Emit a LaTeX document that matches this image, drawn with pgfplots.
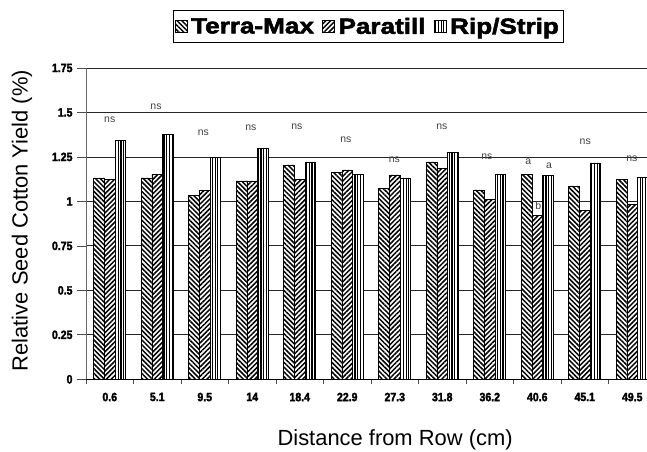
\documentclass[border=0pt]{standalone}
\usepackage{fontspec}
\setmainfont{Liberation Sans}
\newfontfamily\legfont{Liberation Sans}[FakeStretch=1.19, BoldFeatures={FakeBold=2.5}]
\newfontfamily\tickfont{Liberation Sans}[FakeStretch=0.88, BoldFeatures={FakeBold=2.5}]
\usepackage{pgfplots}
\pgfplotsset{compat=1.18}
\usepackage{pgfplotstable}
\usetikzlibrary{patterns.meta}

\pgfplotsset{sqlegend/.style={legend image code/.code={\draw[##1] (0pt,-5.5pt) rectangle (12pt,6.5pt);}}}

\pgfplotstableread{
idx lab TM PA RS
0 0.6 1.132 1.123 1.341
1 5.1 1.132 1.152 1.375
2 9.5 1.033 1.061 1.246
3 14 1.115 1.115 1.298
4 18.4 1.205 1.123 1.222
5 22.9 1.162 1.177 1.152
6 27.3 1.072 1.149 1.132
7 31.8 1.222 1.184 1.274
8 36.2 1.065 1.009 1.152
9 40.6 1.152 0.919 1.147
10 45.1 1.087 0.947 1.216
11 49.5 1.124 0.981 1.134
}\yielddata

\begin{document}
\begin{tikzpicture}
\begin{axis}[
  scale only axis, width=561bp, height=311.3bp,
  at={(0,0)}, anchor=south west,
  xmin=-0.5, xmax=11.31, ymin=0, ymax=1.75,
  axis lines=left, axis line style={-},
  x axis line style={black, line width=0.8pt},
  y axis line style={black!60, line width=0.8pt},
  ytick={0,0.25,0.5,0.75,1,1.25,1.5,1.75},
  yticklabels={0,0.25,0.5,0.75,1,1.25,1.5,1.75},
  xtick={0,1,2,3,4,5,6,7,8,9,10,11},
  xticklabels from table={\yielddata}{lab},
  minor xtick={-0.5,0.5,1.5,2.5,3.5,4.5,5.5,6.5,7.5,8.5,9.5,10.5},
  major x tick style={draw=none},
  tick align=outside, major tick length=9bp, minor tick length=5bp,
  tick style={black!70, line width=0.7pt},
  ymajorgrids, major grid style={black!85, line width=0.8pt},
  every tick label/.append style={font=\tickfont\bfseries\fontsize{12}{14}\selectfont},
  xticklabel style={yshift=-1pt},
  yticklabel style={xshift=-1pt},
  xlabel={Distance from Row (cm)},
  ylabel={Relative Seed Cotton Yield (\%)},
  label style={font=\fontsize{22}{26}\selectfont},
  xlabel style={at={(axis description cs:0.551,-0.195)}, anchor=center},
  ylabel style={at={(axis description cs:-0.114,0.51)}, anchor=center},
  legend columns=3,
  legend style={at={(axis description cs:0.503,1.133)}, anchor=center,
    draw=black, line width=0.8pt, inner xsep=2pt, inner ysep=5.5pt,
    font=\legfont\bfseries\fontsize{22}{24}\selectfont,
    nodes={inner xsep=2.5pt, inner ysep=2pt}},
]
\addplot[ybar, bar width=0.225, bar shift=-0.225, draw=black, line width=0.7pt,
  preaction={fill=white}, pattern={Lines[angle=-45,distance=3.4pt,line width=1.5pt]},
  sqlegend]
  table[x=idx,y=TM]{\yielddata};
\addlegendentry{\kern1pt Terra-Max\kern6pt}
\addplot[ybar, bar width=0.225, bar shift=0, draw=black, line width=0.7pt,
  preaction={fill=white}, pattern={Lines[angle=45,distance=3.4pt,line width=1.5pt]},
  sqlegend]
  table[x=idx,y=PA]{\yielddata};
\addlegendentry{\kern1pt Paratill\kern6pt}
\addplot[ybar, bar width=0.225, bar shift=0.225, draw=black, line width=0.7pt,
  preaction={fill=white}, pattern={Lines[angle=90,distance=2.7pt,line width=1.2pt]},
  sqlegend]
  table[x=idx,y=RS]{\yielddata};
\addlegendentry{\kern1pt Rip/Strip}
\addplot[draw=none, mark=none, forget plot, nodes near coords, point meta=explicit symbolic,
  nodes near coords align=center,
  every node near coord/.append style={anchor=center, inner sep=0pt, text=black!75,
    font=\fontsize{10.5}{12}\selectfont}]
  coordinates {
  (0,1.457) [ns]
  (0.974,1.532) [ns]
  (1.97,1.388) [ns]
  (2.97,1.416) [ns]
  (3.94,1.420) [ns]
  (4.97,1.345) [ns]
  (5.99,1.235) [ns]
  (6.99,1.420) [ns]
  (7.94,1.252) [ns]
  (8.81,1.224) [a]
  (9.02,0.977) [b]
  (9.25,1.201) [a]
  (10.01,1.336) [ns]
  (10.99,1.239) [ns]
  };
\end{axis}
\pgfresetboundingbox
\path[use as bounding box] (-86bp,-72.7bp) rectangle (561bp,379.3bp);
\end{tikzpicture}
\end{document}
